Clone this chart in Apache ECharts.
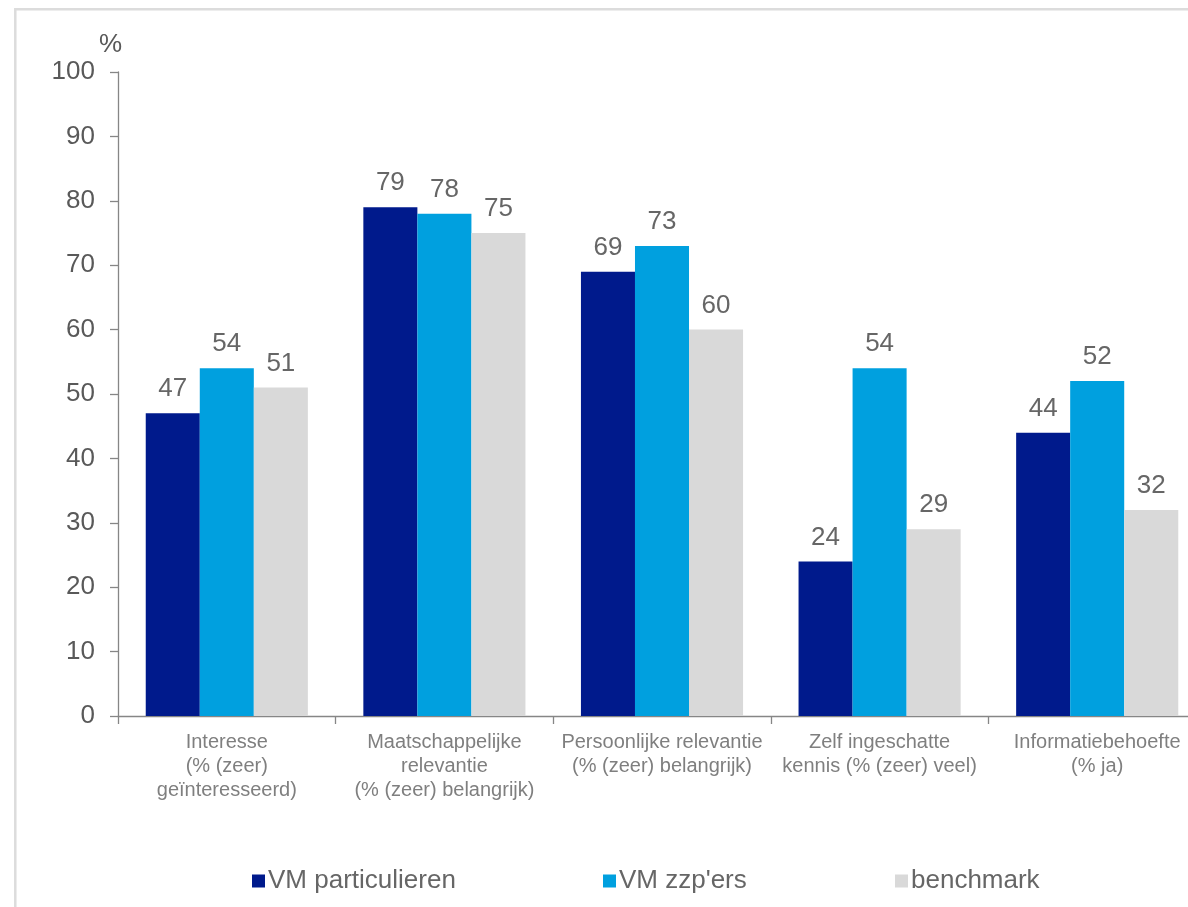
<!DOCTYPE html>
<html>
<head>
<meta charset="utf-8">
<title>Interesse, relevantie, kennis en informatiebehoefte</title>
<script src="https://cdn.jsdelivr.net/npm/echarts@6/dist/echarts.min.js"></script>
<style>
  html, body { margin: 0; padding: 0; background: #ffffff; overflow: hidden; }
  /* the plot runs a little past the right edge of the window */
  #chart { width: 1215px; height: 907px; }
</style>
</head>
<body>
<div id="chart"></div>
<script>
// Categories (x axis)
const categories = [
  'Interesse\n(% (zeer)\ngeïnteresseerd)',
  'Maatschappelijke\nrelevantie\n(% (zeer) belangrijk)',
  'Persoonlijke relevantie\n(% (zeer) belangrijk)',
  'Zelf ingeschatte\nkennis (% (zeer) veel)',
  'Informatiebehoefte\n(% ja)'
];

// Series names
const seriesNames = ['VM particulieren', "VM zzp'ers", 'benchmark'];

// Values per series (percentages)
const vmParticulieren = [47, 79, 69, 24, 44];
const vmZzpers = [54, 78, 73, 54, 52];
const benchmark = [51, 75, 60, 29, 32];

// Value axis range
const yMin = 0;
const yMax = 100;
const yStep = 10;

const FONT = 'Arial, "Liberation Sans", sans-serif';
const colors = ['#001A8C', '#00A0DF', '#D9D9D9'];

const chart = echarts.init(document.getElementById('chart'), null, { renderer: 'canvas' });

const labelStyle = {
  show: true,
  position: 'top',
  distance: 11,
  fontFamily: FONT,
  fontSize: 26,
  color: '#666666'
};

function barSeries(name, data, color) {
  return {
    name: name,
    type: 'bar',
    data: data,
    barGap: '0%',
    barCategoryGap: '25.5%',
    itemStyle: { color: color },
    label: labelStyle,
    emphasis: { disabled: true }
  };
}

// one legend per entry so each can sit at its own spot
const legendLefts = [247, 598, 890];
const legends = seriesNames.map((name, i) => ({
  data: [name],
  left: legendLefts[i],
  top: 863,
  itemWidth: 13,
  itemHeight: 13,
  icon: 'rect',
  selectedMode: false,
  textStyle: { fontFamily: FONT, fontSize: 26, color: '#666666', padding: [0, 0, 0, -2] }
}));

chart.setOption({
  animation: false,
  backgroundColor: '#ffffff',
  textStyle: { fontFamily: FONT },
  title: {
    text: '%',
    left: 94,
    top: 27,
    textStyle: { fontFamily: FONT, fontSize: 26, fontWeight: 'normal', color: '#595959' }
  },
  graphic: [{
    type: 'rect',
    shape: { x: 15.3, y: 9.3, width: 1400, height: 1200 },
    style: { fill: 'none', stroke: '#dcdcdc', lineWidth: 2.5 },
    silent: true,
    z: -10
  }],
  grid: {
    left: 118,
    top: 72,
    width: 1088,
    height: 644,
    containLabel: false
  },
  legend: legends,
  xAxis: {
    type: 'category',
    data: categories,
    axisLine: { show: true, lineStyle: { color: '#868686', width: 1.3 } },
    axisTick: { show: true, alignWithLabel: false, length: 8, lineStyle: { color: '#868686', width: 1.3 } },
    axisLabel: {
      interval: 0,
      margin: 14,
      fontFamily: FONT,
      fontSize: 20,
      lineHeight: 24,
      color: '#7f7f7f',
      align: 'center'
    },
    splitLine: { show: false }
  },
  yAxis: {
    type: 'value',
    min: yMin,
    max: yMax,
    interval: yStep,
    axisLine: { show: true, lineStyle: { color: '#868686', width: 1.3 } },
    axisTick: { show: true, length: 8, lineStyle: { color: '#868686', width: 1.3 } },
    axisLabel: {
      margin: 23,
      fontFamily: FONT,
      fontSize: 26,
      color: '#595959'
    },
    splitLine: { show: false }
  },
  series: [
    barSeries(seriesNames[0], vmParticulieren, colors[0]),
    barSeries(seriesNames[1], vmZzpers, colors[1]),
    barSeries(seriesNames[2], benchmark, colors[2])
  ]
});
</script>
</body>
</html>
